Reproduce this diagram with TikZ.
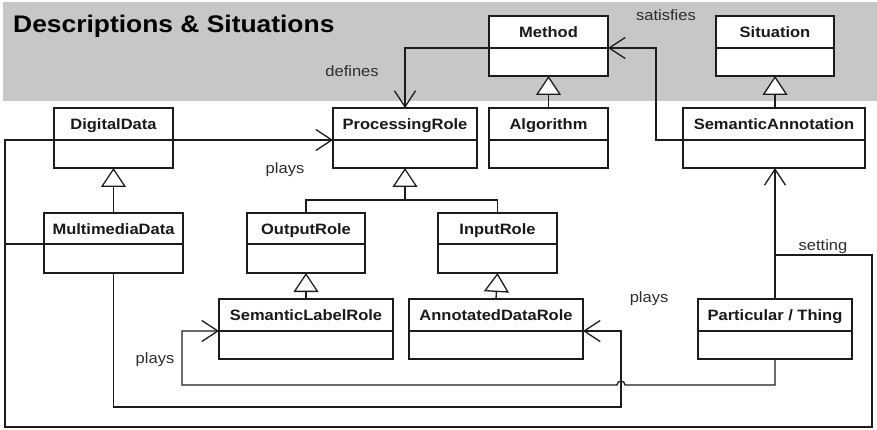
\documentclass[tikz,border=0pt]{standalone}
\usepackage{fontspec}
\setmainfont{Liberation Sans}[FakeStretch=1.1]
\usetikzlibrary{arrows.meta}

\definecolor{band}{RGB}{199,199,199}
\definecolor{linec}{RGB}{28,28,28}
\definecolor{textc}{RGB}{25,25,25}
\definecolor{labelc}{RGB}{45,45,45}

\tikzset{
  classbox/.style={draw=linec, line width=1.4pt, fill=white, inner sep=0pt,
    outer sep=0pt, anchor=north west},
  classdiv/.style={draw=linec, line width=1.3pt},
  classname/.style={font=\fontsize{15}{18}\selectfont\bfseries, text=textc,
    inner sep=0pt, anchor=base},
  link/.style={draw=linec, line width=1.3pt},
  assoc/.style={link, -{Straight Barb[length=16pt,width=21pt,line width=1.3pt]}},
  gen/.style={link, -{Triangle[open,length=19pt,width=25pt,fill=white,line width=1.3pt]}},
  rolelabel/.style={font=\fontsize{15}{18}\selectfont, text=labelc,
    inner sep=0pt, anchor=base},
  titletext/.style={font=\fontsize{24}{28}\selectfont\bfseries, text=black,
    inner sep=0pt, anchor=base west},
}

% UML class: name, left, top, right, divider, bottom, label
\newcommand\umlclass[7]{%
  \node[classbox, minimum width={#4-#2}, minimum height={#6-#3}] (#1) at (#2,#3) {};
  \coordinate (#1-dl) at (#2,#5);
  \coordinate (#1-dr) at (#4,#5);
  \draw[classdiv] (#1-dl) -- (#1-dr);
  \node[classname] (#1-name) at ({(#2+#4)/2},{#3+21.5}) {#7};
}

\begin{document}
\begin{tikzpicture}[x=1pt, y=-1pt]
  \fill[white] (0,0) rectangle (877,430);
  \useasboundingbox (0,0) rectangle (877,430);

  % description layer
  \fill[band] (3,2) rectangle (877,101);
  \node[titletext] (title) at (13,33) {Descriptions \& Situations};

  % classes
  \umlclass{Method}{489}{16}{608}{48}{76}{Method}
  \umlclass{Situation}{716}{16}{834}{48}{76}{Situation}
  \umlclass{DigitalData}{54}{108}{173}{140}{168}{DigitalData}
  \umlclass{ProcessingRole}{333}{108}{477}{140}{168}{ProcessingRole}
  \umlclass{Algorithm}{489}{108}{608}{140}{168}{Algorithm}
  \umlclass{SemanticAnnotation}{683}{108}{865}{140}{168}{SemanticAnnotation}
  \umlclass{MultimediaData}{44}{213}{183}{244}{273}{MultimediaData}
  \umlclass{OutputRole}{247}{213}{365}{244}{273}{OutputRole}
  \umlclass{InputRole}{438}{213}{557}{244}{273}{InputRole}
  \umlclass{SemanticLabelRole}{219}{299}{393}{331}{359}{SemanticLabelRole}
  \umlclass{AnnotatedDataRole}{409}{299}{583}{331}{359}{AnnotatedDataRole}
  \umlclass{ParticularThing}{698}{299}{852}{331}{359}{Particular / Thing}

  % generalisations
  \draw[gen] (Algorithm.north) -- (Method.south);
  \draw[gen] (SemanticAnnotation.north -| Situation.south) -- (Situation.south);
  \draw[gen] (MultimediaData.north) -- (DigitalData.south);
  \coordinate (roles) at ([yshift=-32pt]ProcessingRole.south);
  \draw[link] (OutputRole.north) |- (roles) -| (InputRole.north);
  \draw[gen] (roles) -- (ProcessingRole.south);
  \draw[gen] (SemanticLabelRole.north) -- (OutputRole.south);
  \draw[gen] (AnnotatedDataRole.north) -- (InputRole.south);

  % associations
  \draw[assoc] (Method-dl) -| (ProcessingRole.north);
  \draw[assoc] (SemanticAnnotation-dl) -- ++(-27,0) |- (Method-dr);
  \draw[assoc] (DigitalData-dr) -- (ProcessingRole-dl);
  \draw[assoc] (ParticularThing.north) -- (ParticularThing.north |- SemanticAnnotation.south);

  % setting line round the whole diagram
  \coordinate (settingJoin) at (ParticularThing.north |- 0,255);
  \coordinate (frameSE) at (872,427);
  \coordinate (frameSW) at (5,427);
  \draw[link] (settingJoin) -| (frameSE) -- (frameSW) |- (DigitalData-dl);
  \draw[link] (MultimediaData-dl) -- (MultimediaData-dl -| frameSW);

  % plays links along the bottom
  \coordinate (bend) at (621,407);
  \draw[assoc] (MultimediaData.south) |- (bend) |- (AnnotatedDataRole-dr);
  \coordinate (hop) at (bend |- 0,385);
  \coordinate (loopW) at (182,385);
  \draw[assoc] (ParticularThing.south) |- ([xshift=4pt]hop)
    arc[start angle=0, end angle=180, radius=4pt] -- (loopW) |- (SemanticLabelRole-dl);

  % role labels
  \node[rolelabel] (defines) at (352,77) {defines};
  \node[rolelabel] (satisfies) at (666,21) {satisfies};
  \node[rolelabel] (playsA) at (285,174) {plays};
  \node[rolelabel] (playsB) at (155,363) {plays};
  \node[rolelabel] (playsC) at (649,302) {plays};
  \node[rolelabel] (setting) at (823,250) {setting};
\end{tikzpicture}
\end{document}
